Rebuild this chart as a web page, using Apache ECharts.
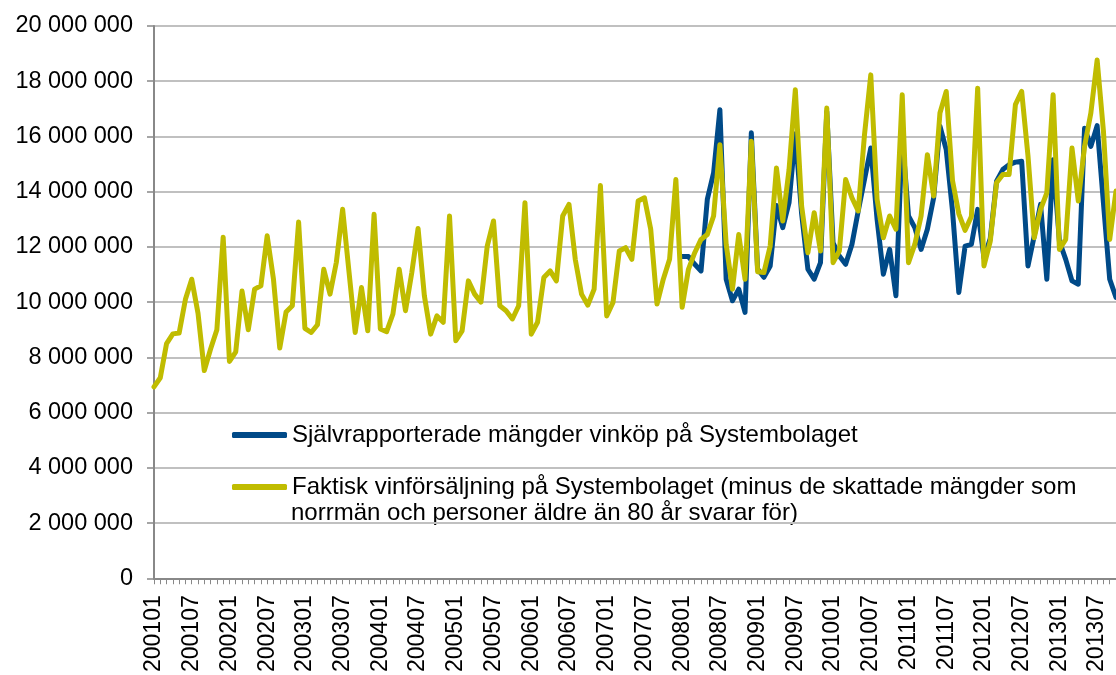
<!DOCTYPE html>
<html>
<head>
<meta charset="utf-8">
<script src="https://cdn.jsdelivr.net/npm/echarts@6/dist/echarts.min.js"></script>
<style>
  html, body { margin: 0; padding: 0; background: #ffffff; }
  #chart { width: 1116px; height: 675px; }
</style>
</head>
<body>
<div id="chart"></div>
<script>
// Monthly categories (YYYYMM)
const categories = [
  '200101','200102','200103','200104','200105','200106','200107','200108','200109','200110','200111','200112',
  '200201','200202','200203','200204','200205','200206','200207','200208','200209','200210','200211','200212',
  '200301','200302','200303','200304','200305','200306','200307','200308','200309','200310','200311','200312',
  '200401','200402','200403','200404','200405','200406','200407','200408','200409','200410','200411','200412',
  '200501','200502','200503','200504','200505','200506','200507','200508','200509','200510','200511','200512',
  '200601','200602','200603','200604','200605','200606','200607','200608','200609','200610','200611','200612',
  '200701','200702','200703','200704','200705','200706','200707','200708','200709','200710','200711','200712',
  '200801','200802','200803','200804','200805','200806','200807','200808','200809','200810','200811','200812',
  '200901','200902','200903','200904','200905','200906','200907','200908','200909','200910','200911','200912',
  '201001','201002','201003','201004','201005','201006','201007','201008','201009','201010','201011','201012',
  '201101','201102','201103','201104','201105','201106','201107','201108','201109','201110','201111','201112',
  '201201','201202','201203','201204','201205','201206','201207','201208','201209','201210','201211','201212',
  '201301','201302','201303','201304','201305','201306','201307','201308','201309','201310'
];

// Faktisk vinförsäljning (yellow), 200101..201310
const salesValues = [
  6930000,7260000,8500000,8850000,8880000,10100000,10830000,9600000,7520000,8300000,9000000,12350000,
  7850000,8200000,10400000,9000000,10470000,10590000,12400000,10830000,8340000,9640000,9870000,12900000,
  9050000,8900000,9180000,11190000,10290000,11440000,13360000,11130000,8900000,10530000,8960000,13180000,
  9030000,8930000,9570000,11190000,9690000,11070000,12670000,10230000,8840000,9500000,9270000,13120000,
  8600000,8960000,10770000,10290000,10000000,12030000,12940000,9870000,9690000,9390000,9870000,13600000,
  8840000,9270000,10890000,11130000,10770000,13120000,13540000,11550000,10290000,9890000,10470000,14220000,
  9500000,9990000,11850000,11970000,11550000,13660000,13780000,12640000,9930000,10830000,11550000,14440000,
  9810000,11190000,11790000,12270000,12450000,13120000,15700000,12090000,10470000,12450000,10830000,15830000,
  11100000,11070000,12030000,14860000,12940000,14800000,17690000,13480000,11790000,13240000,11850000,17030000,
  11430000,11850000,14440000,13780000,13300000,16060000,18230000,13720000,12330000,13120000,12640000,17510000,
  11430000,12090000,13120000,15340000,13840000,16850000,17630000,14400000,13200000,12600000,13100000,17750000,
  11310000,12200000,14320000,14620000,14620000,17150000,17630000,15300000,12330000,13360000,13960000,17510000,
  11910000,12270000,15580000,13660000,15640000,16850000,18770000,16200000,12270000,14020000
];

// Självrapporterade mängder (blue), starting 200801
const selfReportStart = '200801';
const selfReportValues = [
  11650000,11650000,11370000,11130000,13720000,14680000,16970000,10830000,10050000,10470000,9630000,16130000,
  11200000,10900000,11310000,13500000,12700000,13600000,16100000,13200000,11190000,10830000,11430000,16900000,
  12150000,11670000,11370000,12090000,13300000,14440000,15580000,13000000,11010000,11910000,10230000,16000000,
  13120000,12700000,11910000,12640000,13780000,16370000,15520000,13300000,10350000,12030000,12090000,13360000,
  11600000,12300000,14380000,14800000,14980000,15070000,15100000,11310000,12400000,13540000,10830000,15160000,
  12200000,11550000,10770000,10650000,16300000,15640000,16390000,13600000,10830000,10170000
];

const seriesNames = [
  'Självrapporterade mängder vinköp på Systembolaget',
  'Faktisk vinförsäljning på Systembolaget (minus de skattade mängder som\nnorrmän och personer äldre än 80 år svarar för)'
];

const startIdx = categories.indexOf(selfReportStart);
const selfReportData = selfReportValues.map((v, k) => [categories[startIdx + k], v]);

const FONT = "'Liberation Sans', Arial, sans-serif";
const chart = echarts.init(document.getElementById('chart'), null, { renderer: 'canvas' });

function fmt(v) {
  return String(v).replace(/\B(?=(\d{3})+(?!\d))/g, '\u00a0');
}

chart.setOption({
  animation: false,
  backgroundColor: '#ffffff',
  grid: { left: 154, right: 0, top: 26, bottom: 95, containLabel: false },
  xAxis: {
    type: 'category',
    data: categories,
    boundaryGap: false,
    axisLine: { lineStyle: { color: '#888888', width: 2 } },
    axisTick: { show: true, interval: 0, length: 6, lineStyle: { color: '#888888', width: 1 } },
    axisLabel: {
      interval: 5, rotate: 90, margin: 17,
      fontFamily: FONT, fontSize: 23, color: '#000000'
    },
    splitLine: { show: false }
  },
  yAxis: {
    type: 'value',
    min: 0, max: 20000000, interval: 2000000,
    axisLine: { show: true, lineStyle: { color: '#888888', width: 2 } },
    axisTick: { show: true, length: 7, lineStyle: { color: '#888888', width: 1.5 } },
    axisLabel: {
      margin: 21, fontFamily: FONT, fontSize: 23.5, color: '#000000',
      formatter: fmt
    },
    splitLine: { lineStyle: { color: '#c0c0c0', width: 2 } }
  },
  legend: {
    orient: 'vertical',
    left: 232, top: 422, padding: 0,
    itemWidth: 55, itemHeight: 6, itemGap: 26, itemTextGap: 4,
    icon: 'roundRect',
    textStyle: { fontFamily: FONT, fontSize: 24, color: '#000000', lineHeight: 26 },
    formatter: function (name) { return name.split('\n')[0]; },
    data: seriesNames
  },
  graphic: [{
    type: 'text',
    left: 291, top: 501,
    style: {
      text: seriesNames[1].split('\n')[1],
      font: '24px ' + FONT,
      fill: '#000000'
    }
  }],
  series: [
    {
      name: seriesNames[0],
      type: 'line',
      data: selfReportData,
      symbol: 'none',
      color: '#004a88',
      lineStyle: { width: 5, color: '#004a88', cap: 'round', join: 'round' },
      z: 2
    },
    {
      name: seriesNames[1],
      type: 'line',
      data: salesValues,
      symbol: 'none',
      color: '#c0bc00',
      lineStyle: { width: 5, color: '#c0bc00', cap: 'round', join: 'round' },
      z: 3
    }
  ]
});
</script>
</body>
</html>
